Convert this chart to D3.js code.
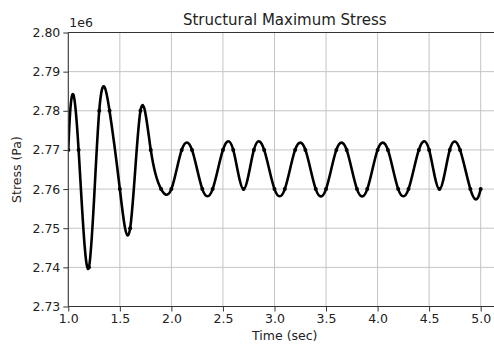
<!DOCTYPE html>
<html>
<head>
<meta charset="utf-8">
<script src="https://cdn.jsdelivr.net/npm/d3@7"></script>
<style>
  html, body { margin: 0; padding: 0; background: #fff; }
  svg { display: block; }
  text { font-family: "DejaVu Sans", sans-serif; fill: #222; }
</style>
</head>
<body>
<svg id="chart" width="494" height="345"></svg>
<script>
// Sampled response, one sample every 0.1 s
const timeSec = [1.0, 1.1, 1.2, 1.3, 1.4, 1.5, 1.6, 1.7, 1.8, 1.9,
                 2.0, 2.1, 2.2, 2.3, 2.4, 2.5, 2.6, 2.7, 2.8, 2.9,
                 3.0, 3.1, 3.2, 3.3, 3.4, 3.5, 3.6, 3.7, 3.8, 3.9,
                 4.0, 4.1, 4.2, 4.3, 4.4, 4.5, 4.6, 4.7, 4.8, 4.9, 5.0];
const stressPa = [2770000, 2770000, 2740000, 2780000, 2780000, 2760000, 2750000, 2780000, 2770000, 2760000,
                  2760000, 2770000, 2770000, 2760000, 2760000, 2770000, 2770000, 2760000, 2770000, 2770000,
                  2760000, 2760000, 2770000, 2770000, 2760000, 2760000, 2770000, 2770000, 2760000, 2760000,
                  2770000, 2770000, 2760000, 2760000, 2770000, 2770000, 2760000, 2770000, 2770000, 2760000, 2760000];

const xTicks = [1.0, 1.5, 2.0, 2.5, 3.0, 3.5, 4.0, 4.5, 5.0];
const yTicks = [2730000, 2740000, 2750000, 2760000, 2770000, 2780000, 2790000, 2800000];

const titleText = "Structural Maximum Stress";
const xLabel = "Time (sec)";
const yLabel = "Stress (Pa)";
const offsetText = "1e6";

// Cubic spline curve with "not-a-knot" end conditions, parameterised by
// point index (same convention as d3.curveNatural), for d3.line().
function notAKnotCoeffs(v) {
  const n = v.length;
  // Solve for second derivatives M: interior rows M[i-1] + 4M[i] + M[i+1] = 6 * second difference
  const A = Array.from({length: n}, () => new Float64Array(n));
  const b = new Float64Array(n);
  A[0][0] = 1; A[0][1] = -2; A[0][2] = 1; b[0] = 0;
  for (let i = 1; i < n - 1; i++) {
    A[i][i - 1] = 1; A[i][i] = 4; A[i][i + 1] = 1;
    b[i] = 6 * (v[i - 1] - 2 * v[i] + v[i + 1]);
  }
  A[n - 1][n - 3] = 1; A[n - 1][n - 2] = -2; A[n - 1][n - 1] = 1; b[n - 1] = 0;
  // Gaussian elimination with partial pivoting
  for (let c = 0; c < n; c++) {
    let p = c;
    for (let r = c + 1; r < n; r++) if (Math.abs(A[r][c]) > Math.abs(A[p][c])) p = r;
    [A[c], A[p]] = [A[p], A[c]]; [b[c], b[p]] = [b[p], b[c]];
    for (let r = c + 1; r < n; r++) {
      const f = A[r][c] / A[c][c];
      if (f === 0) continue;
      for (let k = c; k < n; k++) A[r][k] -= f * A[c][k];
      b[r] -= f * b[c];
    }
  }
  const M = new Float64Array(n);
  for (let r = n - 1; r >= 0; r--) {
    let s = b[r];
    for (let k = r + 1; k < n; k++) s -= A[r][k] * M[k];
    M[r] = s / A[r][r];
  }
  const c1 = [], c2 = [];
  for (let i = 0; i < n - 1; i++) {
    const d = v[i + 1] - v[i];
    const s0 = d - (2 * M[i] + M[i + 1]) / 6;
    const s1 = d + (M[i] + 2 * M[i + 1]) / 6;
    c1.push(v[i] + s0 / 3);
    c2.push(v[i + 1] - s1 / 3);
  }
  return [c1, c2];
}

function NotAKnot(context) { this._context = context; }
NotAKnot.prototype = {
  areaStart() { this._line = 0; },
  areaEnd() { this._line = NaN; },
  lineStart() { this._x = []; this._y = []; },
  lineEnd() {
    const x = this._x, y = this._y, n = x.length;
    if (n) {
      this._line ? this._context.lineTo(x[0], y[0]) : this._context.moveTo(x[0], y[0]);
      if (n < 4) {
        for (let i = 1; i < n; i++) this._context.lineTo(x[i], y[i]);
      } else {
        const [px1, px2] = notAKnotCoeffs(x), [py1, py2] = notAKnotCoeffs(y);
        for (let i = 0; i < n - 1; i++) {
          this._context.bezierCurveTo(px1[i], py1[i], px2[i], py2[i], x[i + 1], y[i + 1]);
        }
      }
    }
    if (this._line || (this._line !== 0 && n === 1)) this._context.closePath();
    this._line = 1 - this._line;
    this._x = this._y = null;
  },
  point(x, y) { this._x.push(+x); this._y.push(+y); }
};
const curveNotAKnot = context => new NotAKnot(context);

const svg = d3.select("#chart");
const plotL = 68.3, plotT = 32.5, plotB = 306.5, plotR = 501.3;

const x = d3.scaleLinear().domain([1.0, 5.2]).range([plotL, plotR]);
const y = d3.scaleLinear().domain([2730000, 2800000]).range([plotB, plotT]);

// grid
const grid = svg.append("g").attr("stroke", "#c4c4c4").attr("stroke-width", 1);
grid.selectAll("line.gx").data(xTicks).join("line").attr("class", "gx")
  .attr("x1", d => x(d)).attr("x2", d => x(d))
  .attr("y1", plotT).attr("y2", plotB);
grid.selectAll("line.gy").data(yTicks).join("line").attr("class", "gy")
  .attr("x1", plotL).attr("x2", plotR)
  .attr("y1", d => y(d)).attr("y2", d => y(d));

// data line (smooth cubic through samples) and sample markers
svg.append("clipPath").attr("id", "plotclip")
  .append("rect").attr("x", plotL).attr("y", plotT)
  .attr("width", plotR - plotL).attr("height", plotB - plotT);

const pts = timeSec.map((t, i) => [t, stressPa[i]]);
const plot = svg.append("g").attr("clip-path", "url(#plotclip)");
plot.append("path")
  .datum(pts)
  .attr("fill", "none")
  .attr("stroke", "#000")
  .attr("stroke-width", 2.6)
  .attr("stroke-linejoin", "round")
  .attr("d", d3.line().x(d => x(d[0])).y(d => y(d[1])).curve(curveNotAKnot));
plot.selectAll("circle").data(pts).join("circle")
  .attr("cx", d => x(d[0])).attr("cy", d => y(d[1]))
  .attr("r", 2).attr("fill", "#000");

// axes
const xAxis = d3.axisBottom(x).tickValues(xTicks).tickFormat(d3.format(".1f"))
  .tickSizeInner(5).tickSizeOuter(0).tickPadding(3);
const yAxis = d3.axisLeft(y).tickValues(yTicks).tickFormat(d => (d / 1e6).toFixed(2))
  .tickSizeInner(5).tickSizeOuter(0).tickPadding(3);

const gx = svg.append("g").attr("transform", `translate(0,${plotB})`).call(xAxis);
const gy = svg.append("g").attr("transform", `translate(${plotL},0)`).call(yAxis);
[gx, gy].forEach(g => {
  g.select(".domain").remove();
  g.selectAll(".tick line").attr("stroke", "#333").attr("stroke-width", 1);
  g.selectAll(".tick text").attr("font-size", 12.5).attr("fill", "#222")
    .style("font-family", "'DejaVu Sans', sans-serif");
});

// spines
const spines = svg.append("g").attr("stroke", "#333").attr("stroke-width", 1).attr("fill", "none");
spines.append("line").attr("x1", plotL).attr("x2", plotL).attr("y1", plotT).attr("y2", plotB);
spines.append("line").attr("x1", plotL).attr("x2", plotR).attr("y1", plotB).attr("y2", plotB);
spines.append("line").attr("x1", plotL).attr("x2", plotR).attr("y1", plotT).attr("y2", plotT);

// labels
svg.append("text").attr("x", (plotL + plotR) / 2).attr("y", 25)
  .attr("text-anchor", "middle").attr("font-size", 15).text(titleText);
svg.append("text").attr("x", (plotL + plotR) / 2).attr("y", 340)
  .attr("text-anchor", "middle").attr("font-size", 12.5).text(xLabel);
svg.append("text")
  .attr("transform", `translate(21,${(plotT + plotB) / 2}) rotate(-90)`)
  .attr("text-anchor", "middle").attr("font-size", 12.5).text(yLabel);
svg.append("text").attr("x", plotL + 1).attr("y", 27)
  .attr("font-size", 12.5).text(offsetText);
</script>
</body>
</html>
